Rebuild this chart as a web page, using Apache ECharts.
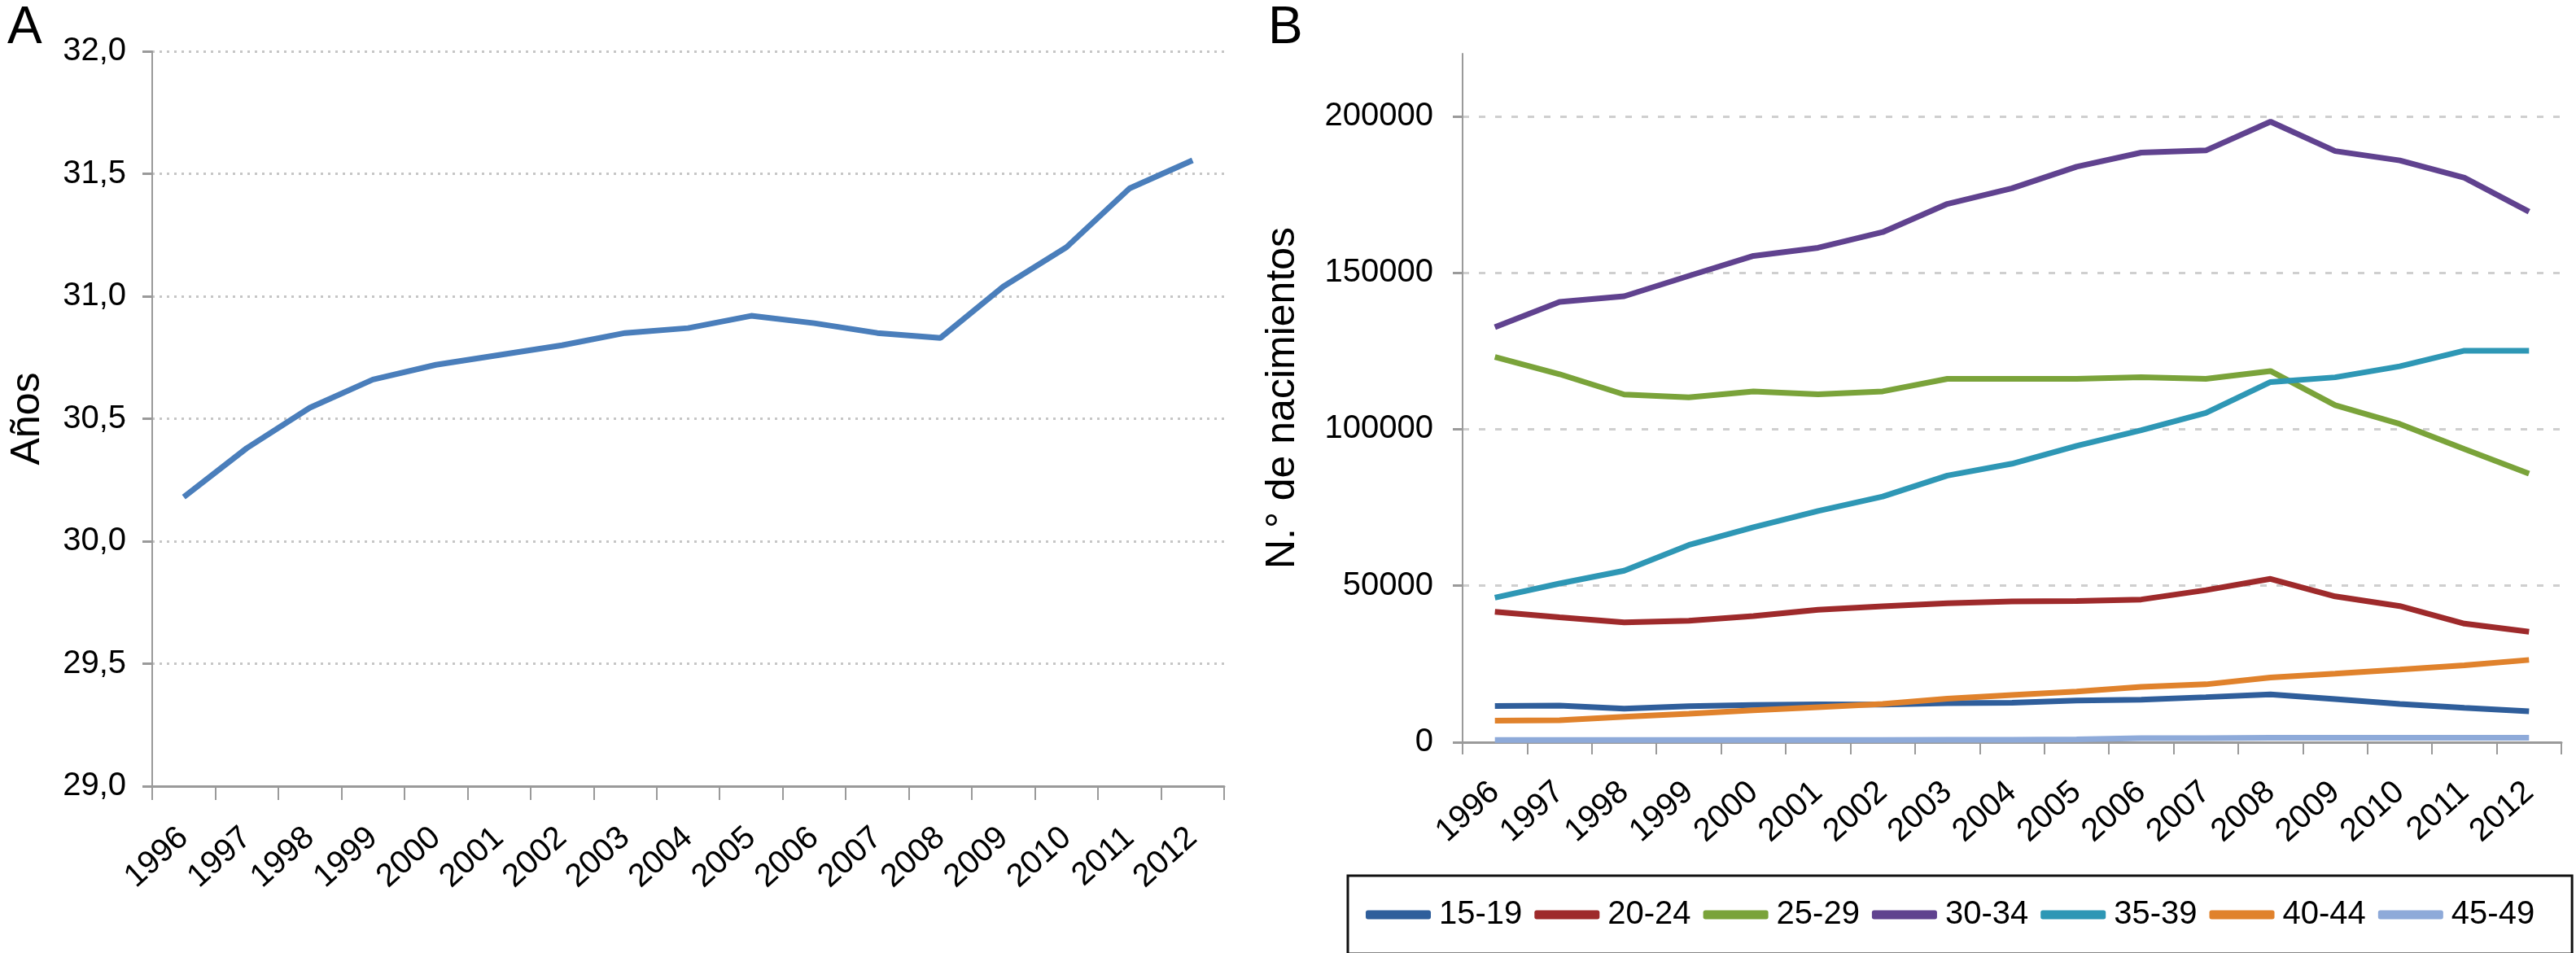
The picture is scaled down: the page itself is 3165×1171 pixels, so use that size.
<!DOCTYPE html>
<html>
<head>
<meta charset="utf-8">
<script src="https://cdn.jsdelivr.net/npm/echarts@6/dist/echarts.min.js"></script>
<style>
html,body{margin:0;padding:0;background:#fff;}
#c{width:3165px;height:1171px;}
</style>
</head>
<body>
<div id="c"></div>
<script>
const years = ['1996','1997','1998','1999','2000','2001','2002','2003','2004','2005','2006','2007','2008','2009','2010','2011','2012'];
const meanAge = [30.18,30.38,30.545,30.66,30.72,30.76,30.80,30.85,30.87,30.92,30.89,30.85,30.83,31.04,31.20,31.44,31.555];
const ageTicksA = [29,29.5,30,30.5,31,31.5,32];

const groups = ['15-19','20-24','25-29','30-34','35-39','40-44','45-49'];
const b1519 = [11600,11700,10700,11500,11900,12100,12000,12500,12600,13300,13600,14400,15300,13800,12200,11000,9900];
const b2024 = [41700,39900,38300,38800,40300,42300,43400,44400,45000,45100,45600,48600,52200,46600,43500,37900,35300];
const b2529 = [123100,117600,111100,110200,112100,111200,112100,116100,116100,116100,116600,116100,118600,107700,101700,93700,85800];
const b3034 = [132600,140700,142500,149000,155400,158000,163000,172000,177000,183900,188400,189100,198300,188900,185900,180400,169500];
const b3539 = [46200,50700,54800,63000,68700,73900,78500,85200,89000,94700,99700,105200,115100,116600,120100,125100,125100];
const b4044 = [6900,7000,8100,9100,10200,11200,12200,13900,15100,16200,17700,18500,20700,21900,23200,24600,26300];
const b4549 = [700,700,700,700,700,700,700,800,800,900,1300,1300,1400,1400,1400,1400,1400];
const birthTicksB = [0,50000,100000,150000,200000];

const seriesValues = [b1519,b2024,b2529,b3034,b3539,b4044,b4549];
const colors = ['#2f5e9b','#9e2a2b','#7aa33a','#60428f','#2e97b5','#e0822c','#8eaad9'];

const FONT = '"Liberation Sans", Arial, Helvetica, sans-serif';
const chart = echarts.init(document.getElementById('c'), null, {renderer:'canvas'});

const axisGray = '#9a9a9a';

chart.setOption({
  backgroundColor:'#ffffff',
  animation:false,
  textStyle:{fontFamily:FONT, color:'#000'},
  title:[
    {text:'A', left:4, top:-2, textStyle:{fontFamily:FONT, fontSize:64, fontWeight:'normal', color:'#000'}},
    {text:'B', left:1553, top:-2, textStyle:{fontFamily:FONT, fontSize:64, fontWeight:'normal', color:'#000'}}
  ],
  legend:{
    data:groups,
    left:1656, top:1076,
    orient:'horizontal',
    icon:'roundRect',
    itemWidth:80, itemHeight:11, itemGap:15,
    padding:[28,46,28,22],
    borderColor:'#111', borderWidth:3,
    textStyle:{fontFamily:FONT, fontSize:40, color:'#000', padding:[0,0,0,5]}
  },
  grid:[
    {left:187, right:1661, top:63, bottom:205, outerBoundsMode:'none', containLabel:false},
    {left:1797, right:18, top:66, bottom:259, outerBoundsMode:'none', containLabel:false}
  ],
  xAxis:[
    {type:'category', gridIndex:0, data:years, boundaryGap:true,
     axisLine:{lineStyle:{color:axisGray, width:3}},
     axisTick:{show:true, length:17, lineStyle:{color:axisGray, width:2}},
     axisLabel:{interval:0, rotate:42, margin:58, fontFamily:FONT, fontSize:40, color:'#000'},
     splitLine:{show:false}},
    {type:'category', gridIndex:1, data:years, boundaryGap:true,
     axisLine:{lineStyle:{color:axisGray, width:3}},
     axisTick:{show:true, length:15, lineStyle:{color:axisGray, width:2}},
     axisLabel:{interval:0, rotate:42, margin:56, fontFamily:FONT, fontSize:40, color:'#000'},
     splitLine:{show:false}}
  ],
  yAxis:[
    {type:'value', gridIndex:0, min:29, max:32, interval:0.5,
     name:'Años', nameLocation:'middle', nameRotate:90, nameGap:128,
     nameTextStyle:{fontFamily:FONT, fontSize:50, color:'#000'},
     axisLine:{show:true, lineStyle:{color:axisGray, width:2}},
     axisTick:{show:true, length:12, lineStyle:{color:axisGray, width:3}},
     axisLabel:{margin:32, fontFamily:FONT, fontSize:40, color:'#000',
       customValues:ageTicksA,
       formatter:function(v){return v.toFixed(1).replace('.', ',');}},
     splitLine:{show:true, showMinLine:false, lineStyle:{color:'#c6c6c6', width:3, type:[3,6]}}},
    {type:'value', gridIndex:1, min:0, max:220000, interval:50000,
     name:'N.° de nacimientos', nameLocation:'middle', nameRotate:90, nameGap:196,
     nameTextStyle:{fontFamily:FONT, fontSize:50, color:'#000'},
     axisLine:{show:true, lineStyle:{color:axisGray, width:2}},
     axisTick:{show:true, length:12, customValues:birthTicksB, lineStyle:{color:axisGray, width:3}},
     axisLabel:{margin:36, fontFamily:FONT, fontSize:40, color:'#000', customValues:birthTicksB,
       formatter:function(v){return String(v);}},
     splitLine:{show:true, showMinLine:false, lineStyle:{color:'#cfcfcf', width:3, type:[8,12]}}}
  ],
  series:[
    {type:'line', name:'Edad media', xAxisIndex:0, yAxisIndex:0, data:meanAge,
     showSymbol:false, symbol:'none', lineStyle:{color:'#4a7ebb', width:7}, itemStyle:{color:'#4a7ebb'}}
  ].concat(groups.map(function(g,i){
    return {type:'line', name:g, xAxisIndex:1, yAxisIndex:1, data:seriesValues[i],
      showSymbol:false, symbol:'none', z: (i===6?3:2),
      lineStyle:{color:colors[i], width:7}, itemStyle:{color:colors[i]}};
  }))
});
</script>
</body>
</html>
